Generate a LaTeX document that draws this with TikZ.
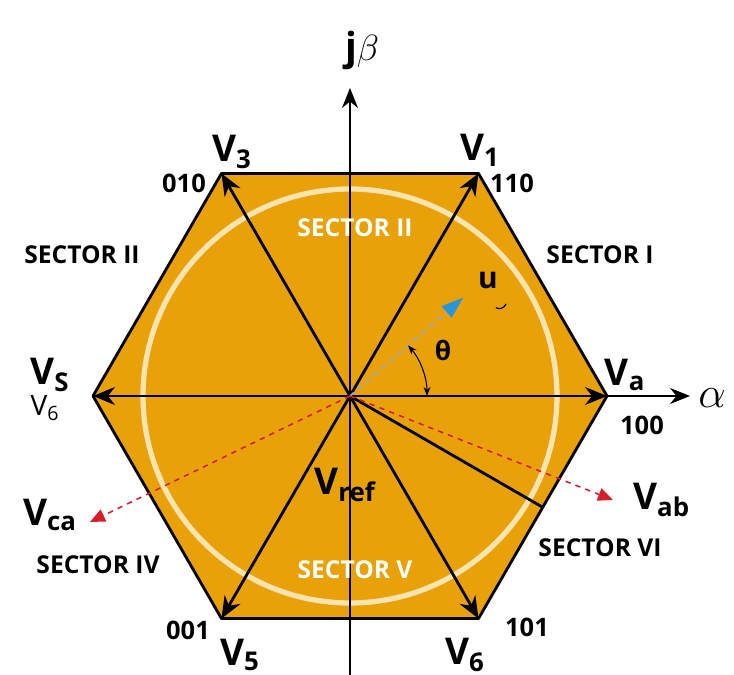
\documentclass[tikz,border=0pt]{standalone}
\usepackage{fontspec}
\setmainfont{Open Sans}
\usetikzlibrary{arrows.meta}
\definecolor{svorange}{RGB}{233,161,10}
\definecolor{svcream}{RGB}{255,228,175}
\definecolor{svblue}{RGB}{40,150,215}
\definecolor{svgrey}{RGB}{150,170,195}
\definecolor{svred}{RGB}{215,30,45}

\begin{document}
\begin{tikzpicture}[x=0.02cm,y=0.02cm,
  vec/.style={line width=1.6pt,-{Stealth[length=4.4mm,width=3.6mm]}},
  axis/.style={line width=1.1pt,-{Stealth[length=4mm,width=3.2mm]}},
  reddash/.style={svred,dashed,line width=0.9pt,-{Triangle[length=3mm,width=2.6mm]}},
  seclabel/.style={font=\bfseries\fontsize{14}{16}\selectfont},
  codelabel/.style={font=\bfseries\fontsize{14.5}{16}\selectfont},
  vlabel/.style={font=\bfseries\fontsize{21}{23}\selectfont}]
  \useasboundingbox (-350,-279) rectangle (384,396);
  % Hexagon corners
  \coordinate (O) at (0,0);
  \foreach \a/\n in {0/va,60/v1,120/v3,180/vs,240/v5,300/v6}
    \coordinate (\n) at (\a:257);
  \coordinate (mid6) at (-30:222.6);
  \fill[svorange] (va) -- (v1) -- (v3) -- (vs) -- (v5) -- (v6) -- cycle;
  \draw[svcream,line width=3pt] (O) circle (207);
  \draw[line width=1.6pt,line join=round] (va) -- (v1) -- (v3) -- (vs) -- (v5) -- (v6) -- cycle;
  % Axes
  \coordinate (ybot) at (0,-279);
  \coordinate (ytop) at (0,308);
  \coordinate (xend) at (340,0);
  \draw[axis] (ybot) -- (ytop);
  \draw[axis] (va) -- (xend);
  % Switching vectors
  \foreach \n in {va,v1,v3,vs,v5,v6}
    \draw[vec] (O) -- (\n);
  \draw[line width=1.6pt] (O) -- (mid6);
  % Reference vector and angle
  \coordinate (utip) at (41:150);
  \draw[svgrey,dashed,line width=1pt,-{Triangle[length=4.4mm,width=3mm,fill=svblue,color=svblue]}] (O) -- (utip);
  \draw[line width=0.6pt,{Stealth[length=1.8mm]}-{Stealth[length=1.8mm]}] (41:77) arc (41:0:77);
  \coordinate (abtip) at (263,-104);
  \coordinate (catip) at (-260,-126);
  \draw[reddash] (O) -- (abtip);
  \draw[reddash] (O) -- (catip);
  % Labels
  \node (jb) at (12,346) {\fontsize{22}{24}\selectfont\bfseries j$\beta$};
  \node (al) at (362,-2) {\fontsize{26}{28}\selectfont$\alpha$};
  \node[vlabel] (l3) at (-118,244) {V\textsubscript{3}};
  \node[codelabel] (c3) at (-166,213) {010};
  \node[vlabel] (l1) at (130,246) {V\textsubscript{1}};
  \node[codelabel] (c1) at (162,213) {110};
  \node[vlabel] (ls) at (-300,21) {V\textsubscript{S}};
  \node[font=\fontsize{16}{18}\selectfont] (ls6) at (-305,-12) {V\textsubscript{6}};
  \node[vlabel] (la) at (275,21) {V\textsubscript{a}};
  \node[codelabel] (ca) at (292,-29) {100};
  \node[vlabel] (l5) at (-110,-259) {V\textsubscript{5}};
  \node[codelabel] (c5) at (-162,-234) {001};
  \node[vlabel] (l6) at (115,-259) {V\textsubscript{6}};
  \node[codelabel] (c6) at (177,-231) {101};
  \node[vlabel] (lref) at (-5,-89) {V\textsubscript{ref}};
  \node[vlabel,anchor=west] (lab) at (abtip) [xshift=8] {V\textsubscript{ab}};
  \node[vlabel,anchor=east] (lca) at (catip) [xshift=-4,yshift=4] {V\textsubscript{ca}};
  \node[font=\fontsize{15}{17}\selectfont\bfseries] (lth) at (93,46) {θ};
  \node[font=\fontsize{17}{19}\selectfont\bfseries] (lu) at (138,116) {u};
  \draw[line width=0.7pt] (156,92) arc (-20:-120:7);
  \node[seclabel,white] (s2in) at (5,168) {SECTOR II};
  \node[seclabel] (s2) at (-268,141) {SECTOR II};
  \node[seclabel] (s1) at (250,141) {SECTOR I};
  \node[seclabel] (s4) at (-252,-169) {SECTOR IV};
  \node[seclabel,white] (s5) at (5,-174) {SECTOR V};
  \node[seclabel] (s6) at (250,-152) {SECTOR VI};
\end{tikzpicture}
\end{document}
